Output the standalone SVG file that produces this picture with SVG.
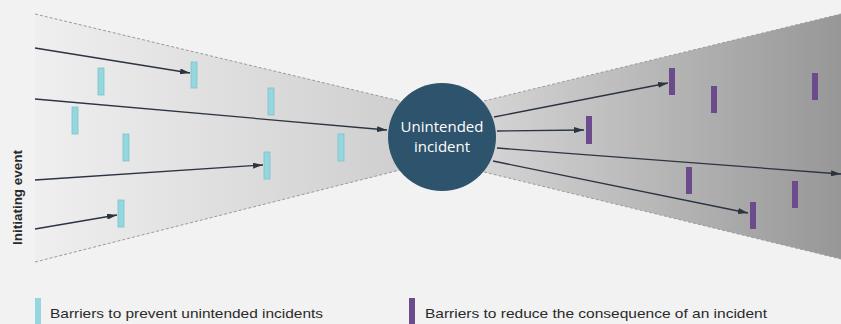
<svg xmlns="http://www.w3.org/2000/svg" width="841" height="324" viewBox="0 0 841 324">
<defs>
<linearGradient id="gl" x1="35" y1="0" x2="400" y2="0" gradientUnits="userSpaceOnUse">
<stop offset="0" stop-color="#efefef"/><stop offset="1" stop-color="#cfcfcf"/>
</linearGradient>
<linearGradient id="gr" x1="487" y1="0" x2="841" y2="0" gradientUnits="userSpaceOnUse">
<stop offset="0" stop-color="#d4d4d4"/><stop offset="1" stop-color="#979797"/>
</linearGradient>
<marker id="ah" viewBox="0 0 10 6" refX="10" refY="3" markerWidth="10" markerHeight="6" markerUnits="userSpaceOnUse" orient="auto">
<path d="M0,0 L10,3 L0,6 Z" fill="#2b3440"/>
</marker>
</defs>
<style>
.edge{stroke:#9a9a9a;stroke-width:1;stroke-dasharray:3 2;fill:none}
.conn{stroke:#2b3440;stroke-width:1.3;fill:none;marker-end:url(#ah)}
.bc{fill:#95d7de;stroke:#7cc3cb;stroke-width:0.8}
.bp{fill:#6c4b8c}
.lbl{font-family:"Liberation Sans",Arial,sans-serif;font-size:13px;fill:#2a2a2a}
.ct{font-family:"Open Sans","Liberation Sans",sans-serif;font-size:15px;fill:#ffffff;text-anchor:middle}
</style>
<rect width="841" height="324" fill="#f2f2f2"/>
<g id="left-funnel">
<polygon points="35,14 400,101 400,170 35,262" fill="url(#gl)"/>
<line class="edge" x1="35" y1="14" x2="400" y2="101"/>
<line class="edge" x1="35" y1="262" x2="400" y2="170"/>
</g>
<g id="right-funnel">
<polygon points="484,101 841,14 841,259 484,172" fill="url(#gr)"/>
<line class="edge" x1="484" y1="101" x2="841" y2="14"/>
<line class="edge" x1="484" y1="172" x2="841" y2="259"/>
</g>
<g id="prevent-barriers">
<rect class="bc" x="98" y="68" width="6" height="27"/>
<rect class="bc" x="191" y="62" width="6" height="26"/>
<rect class="bc" x="268" y="88" width="6" height="27"/>
<rect class="bc" x="72" y="107" width="6" height="27"/>
<rect class="bc" x="123" y="134" width="6" height="27"/>
<rect class="bc" x="338" y="134" width="6" height="27"/>
<rect class="bc" x="264" y="152" width="6" height="27"/>
<rect class="bc" x="118" y="200" width="6" height="27"/>
</g>
<g id="reduce-barriers">
<rect class="bp" x="669" y="68" width="6" height="27"/>
<rect class="bp" x="711" y="86" width="6" height="27"/>
<rect class="bp" x="812" y="73" width="6" height="27"/>
<rect class="bp" x="586" y="116" width="6" height="28"/>
<rect class="bp" x="686" y="167" width="6" height="27"/>
<rect class="bp" x="792" y="181" width="6" height="27"/>
<rect class="bp" x="750" y="202" width="6" height="27"/>
</g>
<g id="connectors">
<line class="conn" x1="35" y1="48" x2="190" y2="73"/>
<line class="conn" x1="35" y1="99" x2="387" y2="130"/>
<line class="conn" x1="35" y1="180" x2="263" y2="165"/>
<line class="conn" x1="35" y1="229" x2="117" y2="215"/>
<line class="conn" x1="494" y1="117" x2="668" y2="83"/>
<line class="conn" x1="497" y1="131" x2="584" y2="130"/>
<line class="conn" x1="497" y1="148" x2="841" y2="174"/>
<line class="conn" x1="493" y1="161" x2="748" y2="213"/>
</g>
<g id="incident">
<circle cx="442" cy="137" r="54" fill="#2e536c"/>
<text class="ct" x="442" y="132">Unintended</text>
<text class="ct" x="442" y="152">incident</text>
</g>
<g id="initiating-event">
<text class="lbl" font-weight="bold" transform="translate(22,245) rotate(-90)" textLength="95" lengthAdjust="spacingAndGlyphs">Initiating event</text>
</g>
<g id="legend">
<rect x="35" y="298" width="6" height="26" fill="#95d7de"/>
<text class="lbl" x="50" y="318" textLength="273" lengthAdjust="spacingAndGlyphs">Barriers to prevent unintended incidents</text>
<rect x="409" y="298" width="6" height="26" fill="#6c4b8c"/>
<text class="lbl" x="425" y="318" textLength="342" lengthAdjust="spacingAndGlyphs">Barriers to reduce the consequence of an incident</text>
</g>
</svg>
